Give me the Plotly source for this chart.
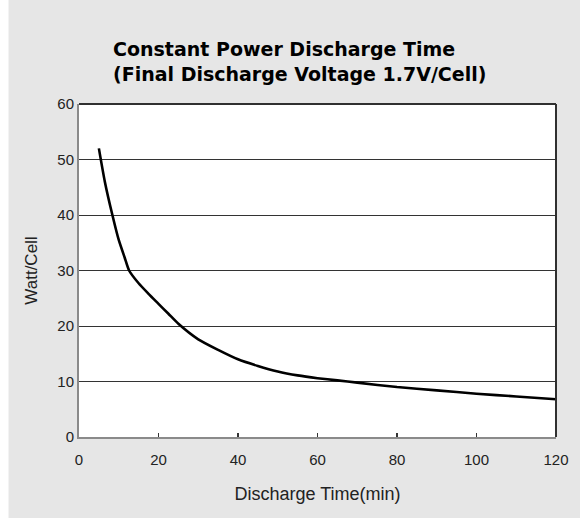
import plotly.graph_objects as go

# Data
time_min = [5, 6.5, 8.4, 10, 11.5, 12.6, 15, 17.5, 20, 22.5, 25, 30, 35, 40, 45, 50, 55, 60, 65, 70, 80, 90, 100, 110, 120]
watt_cell = [52, 46, 40, 35.5, 32.3, 30, 27.7, 25.8, 24.0, 22.2, 20.4, 17.6, 15.7, 14.0, 12.8, 11.8, 11.1, 10.6, 10.2, 9.8, 9.0, 8.4, 7.8, 7.3, 6.8]

x_ticks = [0, 20, 40, 60, 80, 100, 120]
y_ticks = [0, 10, 20, 30, 40, 50, 60]

title_text = "Constant Power Discharge Time<br>(Final Discharge Voltage 1.7V/Cell)"
x_title = "Discharge Time(min)"
y_title = "Watt/Cell"

FONT = "Liberation Sans, Arial, sans-serif"
TFONT = "DejaVu Sans, Verdana, sans-serif"

fig = go.Figure()
fig.add_trace(go.Scatter(
    x=time_min, y=watt_cell, mode="lines",
    line=dict(color="black", width=2.6, shape="spline", smoothing=0.6),
    showlegend=False, hoverinfo="skip",
))

L, R, T, B = 79, 24, 104, 81
W, H = 580, 518
pw = W - L - R

fig.update_layout(
    width=W, height=H,
    margin=dict(l=L, r=R, t=T, b=B),
    paper_bgcolor="#e6e6e6",
    plot_bgcolor="white",
    font=dict(family=FONT, color="#222222"),
    title=dict(
        text="<b>" + title_text + "</b>",
        font=dict(size=19, color="black", family=TFONT),
        x=113 / W, xanchor="left", xref="container",
        y=1 - 56 / H, yanchor="top", yref="container",
    ),
    xaxis=dict(
        range=[0, 120], tickvals=x_ticks, ticks="inside", ticklen=4,
        tickcolor="#333333", tickwidth=1.5, ticklabelstandoff=8,
        showgrid=False, zeroline=False,
        showline=True, linecolor="#8a8a8a", linewidth=2,
        tickfont=dict(size=15, color="#222222"),
        title=dict(text=x_title, font=dict(size=18, color="#222222"), standoff=20),
    ),
    yaxis=dict(
        range=[0, 60], tickvals=y_ticks, ticks="",
        showgrid=True, gridcolor="#333333", gridwidth=1,
        zeroline=False,
        showline=True, linecolor="#8a8a8a", linewidth=2,
        tickfont=dict(size=15, color="#222222"),
        title=dict(text=y_title, font=dict(size=17, color="#222222"), standoff=15),
    ),
    shapes=[
        # white strip at far left of the picture
        dict(type="rect", xref="paper", yref="paper",
             x0=(0 - L) / pw, x1=(8.5 - L) / pw, y0=-2, y1=3,
             fillcolor="white", line=dict(width=0), layer="below"),
        # dark top and right frame
        dict(type="line", xref="paper", yref="paper", x0=0, x1=1, y0=1, y1=1,
             line=dict(color="#303030", width=2)),
        dict(type="line", xref="paper", yref="paper", x0=1, x1=1, y0=0, y1=1,
             line=dict(color="#303030", width=2)),
    ],
)

fig.write_html(
    "out.html",
    config={"displayModeBar": False, "staticPlot": True},
    post_script="document.body.style.margin='0';document.body.style.overflow='hidden';",
)
